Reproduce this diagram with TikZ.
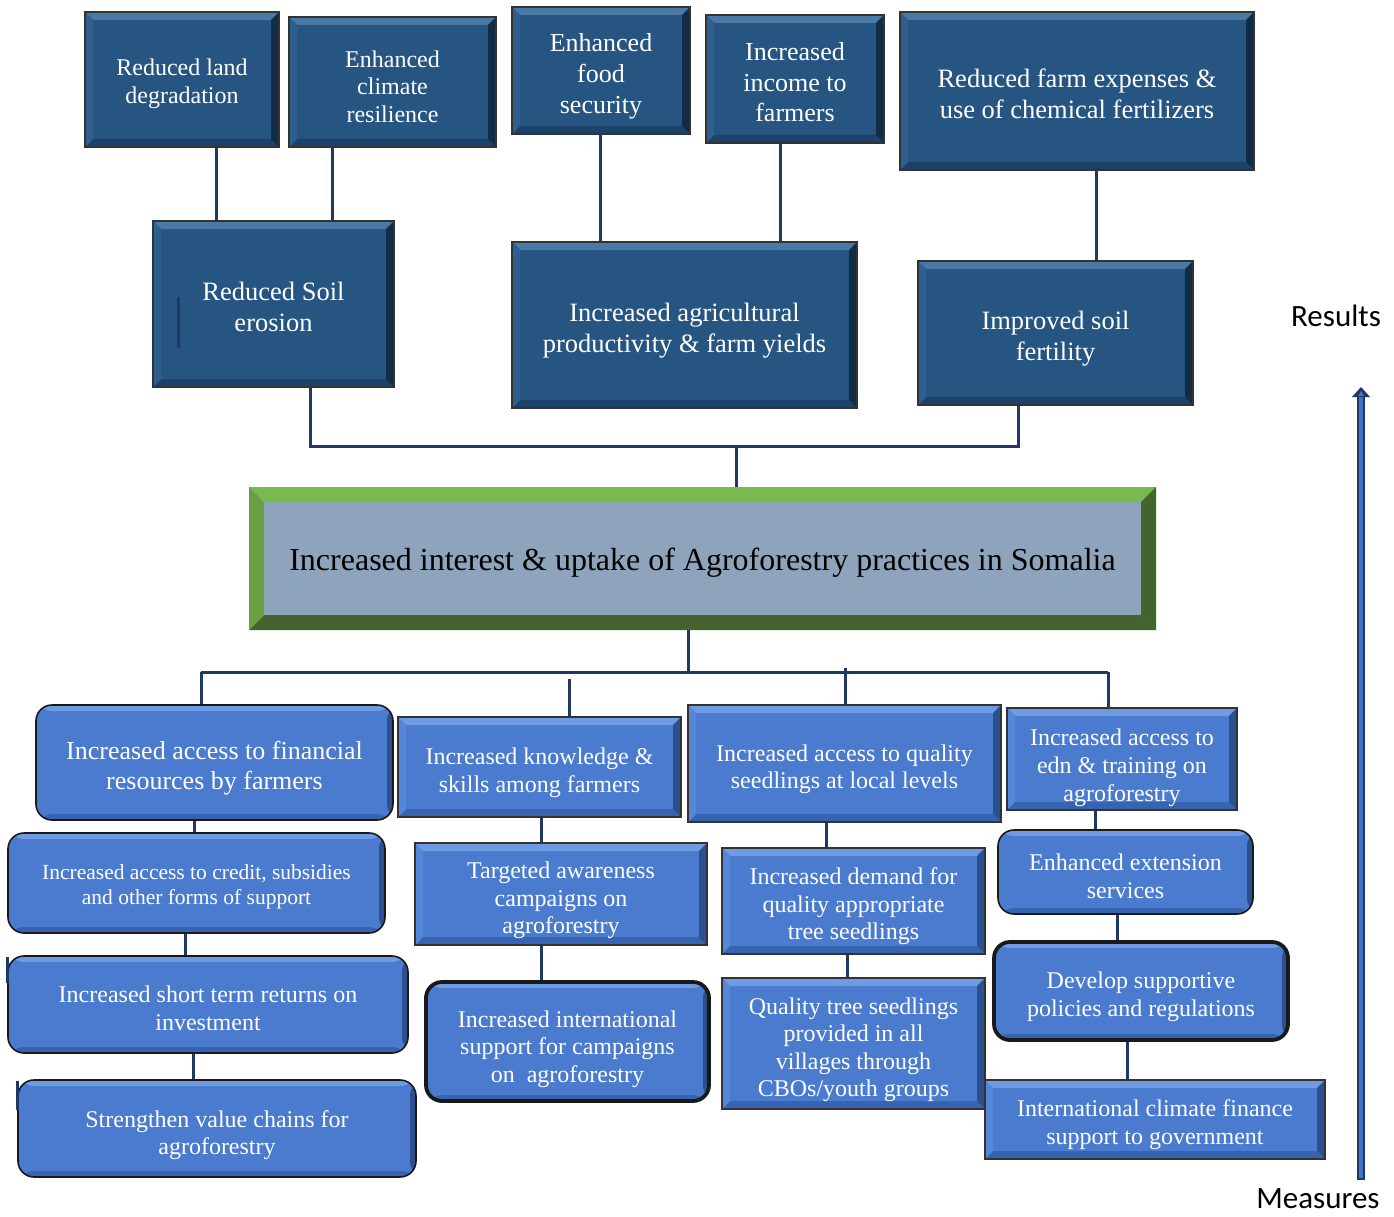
\documentclass[tikz,border=0pt]{standalone}
\usepackage{fontspec}
\setmainfont{Liberation Serif}
\newfontfamily\calibrifont{Carlito}
\newcommand{\fsz}[2]{\fontsize{#1}{#2}\selectfont}
\newcommand{\dn}[1]{\rule{0pt}{\dimexpr0.72em+#1pt*2\relax}}
\definecolor{navy}{HTML}{1F3864}
\definecolor{arrowblue}{HTML}{4472C4}
\definecolor{dkfill}{HTML}{265582}
\definecolor{dktop}{HTML}{4A79A6}
\definecolor{dkbot}{HTML}{1D4269}
\definecolor{dkleft}{HTML}{2F5F8E}
\definecolor{dkright}{HTML}{122C47}
\definecolor{lbfill}{HTML}{4A7BCF}
\definecolor{lbtop}{HTML}{6E9BE2}
\definecolor{lbbot}{HTML}{3664B0}
\definecolor{lbleft}{HTML}{5686D8}
\definecolor{lbright}{HTML}{2C4F8E}
\definecolor{gfill}{HTML}{8EA3BC}
\definecolor{gtop}{HTML}{7AB94F}
\definecolor{gbot}{HTML}{46632F}
\definecolor{gleft}{HTML}{6A9E43}
\definecolor{gright}{HTML}{42652B}
\tikzset{
  bevelpic/.style n args={5}{path picture={
    \fill[#1] (path picture bounding box.north west) -- (path picture bounding box.north east) -- ([xshift=-#5,yshift=-#5]path picture bounding box.north east) -- ([xshift=#5,yshift=-#5]path picture bounding box.north west) -- cycle;
    \fill[#2] (path picture bounding box.south west) -- (path picture bounding box.south east) -- ([xshift=-#5,yshift=#5]path picture bounding box.south east) -- ([xshift=#5,yshift=#5]path picture bounding box.south west) -- cycle;
    \fill[#3] (path picture bounding box.north west) -- (path picture bounding box.south west) -- ([xshift=#5,yshift=#5]path picture bounding box.south west) -- ([xshift=#5,yshift=-#5]path picture bounding box.north west) -- cycle;
    \fill[#4] (path picture bounding box.north east) -- (path picture bounding box.south east) -- ([xshift=-#5,yshift=#5]path picture bounding box.south east) -- ([xshift=-#5,yshift=-#5]path picture bounding box.north east) -- cycle;
  }},
  darkbox/.style={rectangle, draw=black!80, line width=1.2pt, fill=dkfill, text=white, align=center, inner sep=0pt,
    bevelpic={dktop}{dkbot}{dkleft}{dkright}{8pt}},
  lightbox/.style={rectangle, draw=black!80, line width=1.2pt, fill=lbfill, text=white, align=center, inner sep=0pt,
    bevelpic={lbtop}{lbbot}{lbleft}{lbright}{8pt}},
  greenbox/.style={rectangle, fill=gfill, text=black, align=center, inner sep=0pt,
    bevelpic={gtop}{gbot}{gleft}{gright}{15pt}},
  roundbox/.style={rectangle, rounded corners=16pt, draw=black!90, line width=1.6pt, fill=lbfill, text=white, align=center, inner sep=0pt,
    path picture={
      \fill[lbtop] (path picture bounding box.north west) rectangle ([yshift=-6pt]path picture bounding box.north east);
      \fill[lbbot] ([yshift=6pt]path picture bounding box.south west) rectangle (path picture bounding box.south east);
      \fill[lbright] ([xshift=-6pt]path picture bounding box.north east) rectangle (path picture bounding box.south east);
    }},
  thickround/.style={roundbox, line width=3.8pt},
  conn/.style={draw=navy, line width=3pt},
  sidelabel/.style={font=\calibrifont\fsz{31}{36}, text=black, inner sep=0pt},
}
\begin{document}
\begin{tikzpicture}[x=1pt,y=-1pt]
\useasboundingbox (0,0) rectangle (1394,1217);
% ---------- results ----------
\node[darkbox, minimum width=194pt, minimum height=135pt, font=\fsz{24}{28}] (r1) at (182,79.5) {\dn{4}Reduced land\\degradation};
\node[darkbox, minimum width=207pt, minimum height=130pt, font=\fsz{24}{27.5}] (r2) at (392.5,82) {\dn{4}Enhanced\\climate\\resilience};
\node[darkbox, minimum width=178pt, minimum height=127pt, font=\fsz{26}{31}] (r3) at (601,70.5) {\dn{5}Enhanced\\food\\security};
\node[darkbox, minimum width=178pt, minimum height=128pt, font=\fsz{26}{30.5}] (r4) at (795,79) {\dn{3}Increased\\income to\\farmers};
\node[darkbox, minimum width=354pt, minimum height=158pt, font=\fsz{26.5}{31}] (r5) at (1077,91) {\dn{3}Reduced farm expenses \&\\use of chemical fertilizers};
\node[darkbox, minimum width=241pt, minimum height=166pt, font=\fsz{26.5}{31}] (r6) at (273.5,304) {\dn{3}Reduced Soil\\erosion};
\node[darkbox, minimum width=345pt, minimum height=166pt, font=\fsz{26.5}{31}] (r7) at (684.5,325) {\dn{5}Increased agricultural\\productivity \& farm yields};
\node[darkbox, minimum width=275pt, minimum height=144pt, font=\fsz{26.5}{31}] (r8) at (1055.5,333) {\dn{5}Improved soil\\fertility};
\draw[conn] ([xshift=-95.5pt,yshift=7pt]r6.center) -- ([xshift=-95.5pt,yshift=-44pt]r6.center);
% ---------- main ----------
\node[greenbox, minimum width=907pt, minimum height=143pt, font=\fsz{32}{38}] (main) at (702.5,558.5) {\dn{4}Increased interest \& uptake of Agroforestry practices in Somalia};
% ---------- measures ----------
\node[roundbox, minimum width=357pt, minimum height=115pt, font=\fsz{26}{30}] (a1) at (214.5,762.5) {\dn{5}Increased access to financial\\resources by farmers};
\node[roundbox, minimum width=377pt, minimum height=100pt, font=\fsz{21.5}{25}] (a2) at (196.5,883) {\dn{4}Increased access to credit, subsidies\\and other forms of support};
\node[roundbox, minimum width=400pt, minimum height=97pt, font=\fsz{24}{28}] (a3) at (208,1004.5) {\dn{3}Increased short term returns on\\investment};
\node[roundbox, minimum width=398pt, minimum height=97pt, font=\fsz{24}{27}] (a4) at (217,1128.5) {\dn{6}Strengthen value chains for\\agroforestry};
\node[lightbox, minimum width=283pt, minimum height=100pt, font=\fsz{24}{28}] (b1) at (539.5,767) {\dn{5}Increased knowledge \&\\skills among farmers};
\node[lightbox, minimum width=292pt, minimum height=102pt, font=\fsz{24}{27.5}] (b2) at (561,894) {\dn{6}Targeted awareness\\campaigns on\\agroforestry};
\node[thickround, minimum width=283pt, minimum height=119pt, font=\fsz{24}{27.5}] (b3) at (567.5,1041.5) {\dn{7}Increased international\\support for campaigns\\on\ \ agroforestry};
\node[lightbox, minimum width=313pt, minimum height=117pt, font=\fsz{24}{27}] (c1) at (844.5,763.5) {\dn{5}Increased access to quality\\seedlings at local levels};
\node[lightbox, minimum width=263pt, minimum height=106pt, font=\fsz{24}{27.5}] (c2) at (853.5,901) {\dn{5}Increased demand for\\quality appropriate\\tree seedlings};
\node[lightbox, minimum width=263pt, minimum height=131pt, font=\fsz{24}{27.3}] (c3) at (853.5,1043.5) {\dn{6}Quality tree seedlings\\provided in all\\villages through\\CBOs/youth groups};
\node[lightbox, minimum width=230pt, minimum height=102pt, font=\fsz{24}{28}] (d1) at (1122,759) {\dn{8}Increased access to\\edn \& training on\\agroforestry};
\node[roundbox, minimum width=255pt, minimum height=84pt, font=\fsz{24}{28}] (d2) at (1125.5,872) {\dn{4}Enhanced extension\\services};
\node[thickround, minimum width=294pt, minimum height=98pt, font=\fsz{24}{28}] (d3) at (1141,991) {\dn{5}Develop supportive\\policies and regulations};
\node[lightbox, minimum width=340pt, minimum height=79pt, font=\fsz{24}{28}] (d4) at (1155,1119.5) {\dn{5}International climate finance\\support to government};
\draw[conn] ([yshift=47.5pt]a3.west) -- ([yshift=21.5pt]a3.west);
\draw[conn] ([yshift=47.5pt]a4.west) -- ([yshift=18.5pt]a4.west);
% ---------- connectors: results ----------
\draw[conn] ([xshift=34pt]r1.south) -- ([xshift=34pt]r1.south |- r6.north);
\draw[conn] ([xshift=-60.5pt]r2.south) -- ([xshift=-60.5pt]r2.south |- r6.north);
\draw[conn] ([xshift=-1pt]r3.south) -- ([xshift=-1pt]r3.south |- r7.north);
\draw[conn] ([xshift=-15pt]r4.south) -- ([xshift=-15pt]r4.south |- r7.north);
\draw[conn] ([xshift=19pt]r5.south) -- ([xshift=19pt]r5.south |- r8.north);
\coordinate (busT) at (736,446);
\draw[conn] ([xshift=36.5pt]r6.south) |- (busT) -| ([xshift=-37.5pt]r8.south);
\draw[conn] (busT) -- (busT |- main.north);
% ---------- connectors: measures ----------
\coordinate (busB) at (688,672);
\coordinate (busBL) at (201,672);
\coordinate (busBR) at (1108,672);
\coordinate (busB2) at (569,679);
\coordinate (busB3) at (845,668);
\draw[conn] (busB |- main.south) -- (busB);
\draw[conn] (busBL) -- (busBR);
\draw[conn] (busBL) -- (busBL |- a1.north);
\draw[conn] (busB2) -- (busB2 |- b1.north);
\draw[conn] (busB3) -- (busB3 |- c1.north);
\draw[conn] (busBR) -- (busBR |- d1.north);
\draw[conn] ([xshift=-20.5pt]a1.south) -- ([xshift=-20.5pt]a1.south |- a2.north);
\draw[conn] ([xshift=-11.5pt]a2.south) -- ([xshift=-11.5pt]a2.south |- a3.north);
\draw[conn] ([xshift=-15pt]a3.south) -- ([xshift=-15pt]a3.south |- a4.north);
\draw[conn] ([xshift=1.5pt]b1.south) -- ([xshift=1.5pt]b1.south |- b2.north);
\draw[conn] ([xshift=-20pt]b2.south) -- ([xshift=-20pt]b2.south |- b3.north);
\draw[conn] ([xshift=-18.5pt]c1.south) -- ([xshift=-18.5pt]c1.south |- c2.north);
\draw[conn] ([xshift=-6.5pt]c2.south) -- ([xshift=-6.5pt]c2.south |- c3.north);
\draw[conn] ([xshift=-27pt]d1.south) -- ([xshift=-27pt]d1.south |- d2.north);
\draw[conn] ([xshift=-8.5pt]d2.south) -- ([xshift=-8.5pt]d2.south |- d3.north);
\draw[conn] ([xshift=-14pt]d3.south) -- ([xshift=-14pt]d3.south |- d4.north);
% ---------- side arrow ----------
\node[sidelabel] (results) at (1336,316) {Results};
\node[sidelabel] (measures) at (1318,1199) {Measures};
\coordinate (arB) at (1361,1180);
\coordinate (arT) at (1361,387);
\draw[navy, line width=8pt] (arB) -- ([yshift=-9pt]arT);
\draw[arrowblue, line width=4pt] ([yshift=2pt]arB) -- ([yshift=-9pt]arT);
\fill[navy] (arT) -- ([xshift=-9pt,yshift=-10pt]arT) -- ([xshift=9pt,yshift=-10pt]arT) -- cycle;
\fill[arrowblue] ([yshift=-4pt]arT) -- ([xshift=-3pt,yshift=-9pt]arT) -- ([xshift=3pt,yshift=-9pt]arT) -- cycle;
\end{tikzpicture}
\end{document}
